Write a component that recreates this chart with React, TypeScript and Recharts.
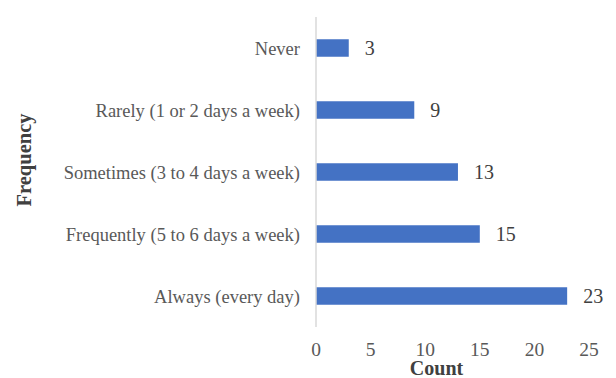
import React from 'react';
import { BarChart, Bar, XAxis, YAxis, LabelList, Label } from 'recharts';

const categories = [
  'Never',
  'Rarely (1 or 2 days a week)',
  'Sometimes (3 to 4 days a week)',
  'Frequently (5 to 6 days a week)',
  'Always (every day)',
];
const counts = [3, 9, 13, 15, 23];
const xTicks = [0, 5, 10, 15, 20, 25];

const data = categories.map((c, i) => ({ category: c, count: counts[i] }));

const FONT = '"Liberation Serif", "Times New Roman", serif';

export default function App() {
  return (
    <div style={{ position: 'absolute', left: 0, top: 0, width: 616, height: 378, background: '#fff' }}>
      <BarChart
        width={616}
        height={378}
        data={data}
        layout="vertical"
        margin={{ top: 17, right: 27, bottom: 0, left: 0 }}
        barCategoryGap="64%"
      >
        <XAxis
          type="number"
          domain={[0, 25]}
          ticks={xTicks}
          axisLine={false}
          tickLine={false}
          height={51}
          tickMargin={9}
          tick={{ fill: '#595959', fontSize: 19.5, fontFamily: FONT }}
        >
          <Label
            value="Count"
            position="insideBottom"
            offset={3}
            dx={-16}
            style={{ fill: '#404040', fontSize: 20, fontWeight: 'bold', fontFamily: FONT }}
          />
        </XAxis>
        <YAxis
          type="category"
          dataKey="category"
          width={316}
          axisLine={{ stroke: '#d9d9d9', strokeWidth: 1.5 }}
          tickLine={false}
          tickMargin={10}
          tick={{ fill: '#595959', fontSize: 18.5, fontFamily: FONT }}
        >
          <Label
            value="Frequency"
            angle={-90}
            position="insideLeft"
            offset={24}
            dy={-12}
            style={{ fill: '#404040', fontSize: 20.5, fontWeight: 'bold', fontFamily: FONT, textAnchor: 'middle' }}
          />
        </YAxis>
        <Bar dataKey="count" fill="#4472C4" isAnimationActive={false}>
          <LabelList
            dataKey="count"
            position="right"
            offset={16}
            style={{ fill: '#404040', fontSize: 20, fontFamily: FONT }}
          />
        </Bar>
      </BarChart>
    </div>
  );
}
